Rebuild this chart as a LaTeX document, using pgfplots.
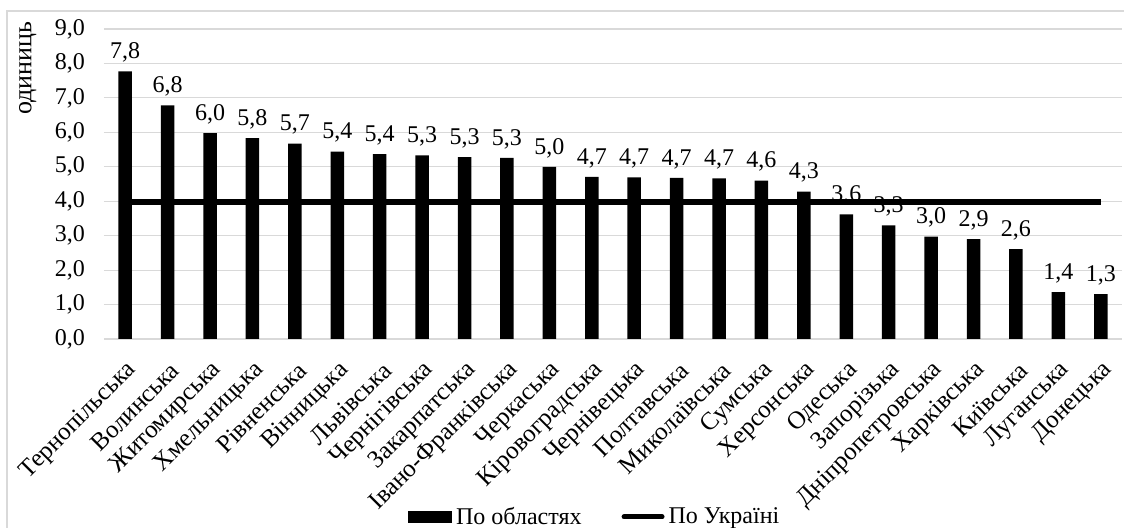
\documentclass[border=0pt]{standalone}
\usepackage{fontspec}
\setmainfont{Liberation Serif}
\usepackage{pgfplots}
\pgfplotsset{compat=1.18}
\definecolor{gridgrey}{RGB}{217,217,217}
\begin{document}
\begin{tikzpicture}
\useasboundingbox (-52pt,-94.5pt) rectangle (510pt,169.5pt);
\draw[gridgrey, line width=0.6pt] (-48.5pt,-100pt) rectangle (515pt,164pt);
\begin{axis}[
  at={(0,0)}, anchor=south west,
  scale only axis, width=509pt, height=155pt,
  xmin=-0.5, xmax=23.5, ymin=0, ymax=9,
  ytick={0,1,...,9},
  xtick={0,1,...,23},
  xticklabels={Тернопільська,Волинська,Житомирська,Хмельницька,Рівненська,Вінницька,Львівська,Чернігівська,Закарпатська,Івано-Франківська,Черкаська,Кіровоградська,Чернівецька,Полтавська,Миколаївська,Сумська,Херсонська,Одеська,Запорізька,Дніпропетровська,Харківська,Київська,Луганська,Донецька},
  axis line style={draw=none},
  tick style={draw=none},
  ymajorgrids,
  major grid style={gridgrey, line width=0.6pt},
  /pgf/number format/.cd, fixed, fixed zerofill, precision=1, use comma, assume math mode=true,
  /pgfplots/.cd,
  yticklabel style={font=\fontsize{12}{14}\selectfont, anchor=east, xshift=-6pt},
  xticklabel style={xshift=4.6pt, yshift=-13pt, font=\fontsize{12.5}{14}\selectfont, rotate=45, anchor=east, inner sep=1pt},
  ylabel={одиниць},
  ylabel style={font=\fontsize{13}{15}\selectfont, at={(axis description cs:-0.075,0.874)}, anchor=center},
  legend style={at={(axis description cs:0.483,-0.574)}, anchor=center, draw=none, fill=none,
    font=\fontsize{12}{14}\selectfont, legend columns=2,
    /tikz/every even column/.append style={column sep=18pt}},
  legend cell align=left,
]
\addplot[ybar, bar width=6.75pt, bar shift=0pt, fill=black, draw=none,
  nodes near coords,
  every node near coord/.append style={font=\fontsize{12}{14}\selectfont, black, yshift=1pt},
  legend image code/.code={\fill[black] (0pt,-3pt) rectangle (22pt,3pt);}
] coordinates {
(0,7.77) (1,6.78) (2,5.98) (3,5.83) (4,5.67) (5,5.44) (6,5.37) (7,5.33) (8,5.28) (9,5.26)
(10,5.00) (11,4.71) (12,4.69) (13,4.68) (14,4.66) (15,4.60) (16,4.28) (17,3.62) (18,3.30)
(19,2.97) (20,2.90) (21,2.61) (22,1.36) (23,1.30)
};
\addlegendentry{По областях}
\addplot[black, line width=2.8pt,
  legend image code/.code={\draw[black, line width=2.5pt, line cap=round] (1pt,0pt) -- (20pt,0pt);}
] coordinates {(0,3.97) (23,3.97)};
\addlegendentry{По Україні}
\end{axis}
\end{tikzpicture}
\end{document}
